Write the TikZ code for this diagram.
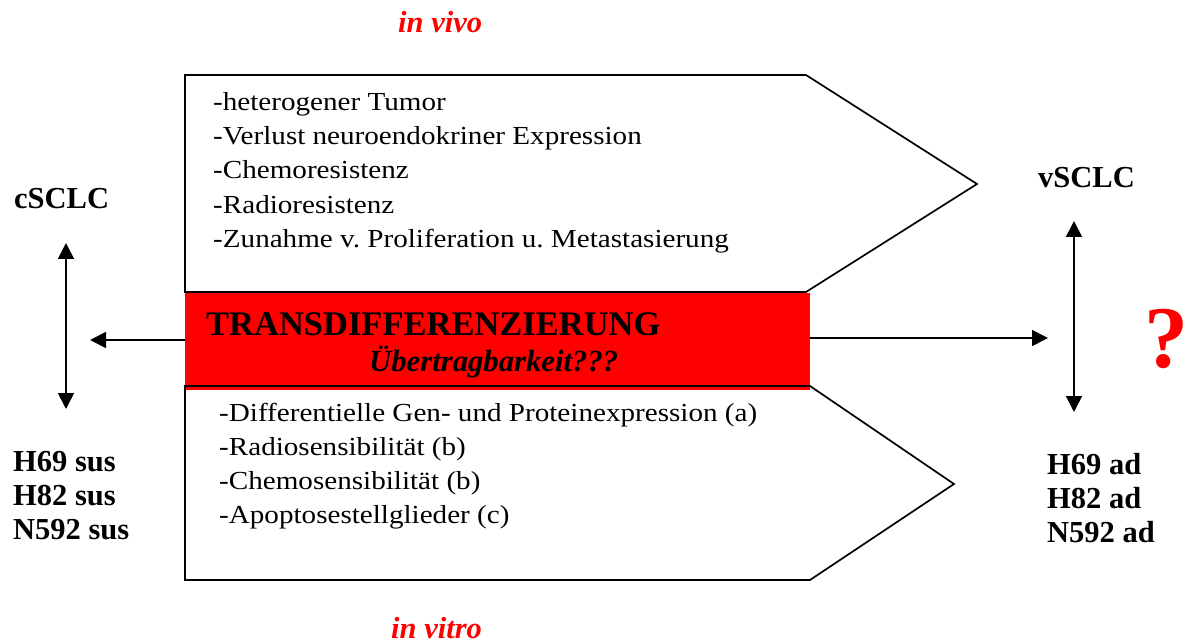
\documentclass[tikz,border=0pt]{standalone}
\usepackage{fontspec}
\setmainfont{Liberation Serif}
\newfontfamily\listfont[FakeStretch=1.12]{Liberation Serif}
\usetikzlibrary{arrows.meta}
\definecolor{pred}{RGB}{255,0,0}
\frenchspacing
\tikzset{
  outline/.style={draw=black,line width=1.7pt,line join=miter},
  listtext/.style={anchor=base west,inner sep=0pt,font=\listfont\fontsize{26}{30}\selectfont\frenchspacing},
  sidelabel/.style={anchor=base west,inner sep=0pt,font=\bfseries\fontsize{30.5}{34}\selectfont},
  redlabel/.style={anchor=base west,inner sep=0pt,text=pred,font=\bfseries\itshape\fontsize{30.5}{34}\selectfont},
  conn/.style={line width=1.7pt,-{Triangle[length=16pt,width=16pt]}},
  dconn/.style={line width=1.7pt,{Triangle[length=16pt,width=16pt]}-{Triangle[length=16pt,width=16pt]}},
}
\begin{document}
\begin{tikzpicture}[x=1pt,y=-1pt]
\useasboundingbox (0,0) rectangle (1186,644);
% red bar
\node (bar) [fill=pred,inner sep=0pt,minimum width=625pt,minimum height=97pt,anchor=north west] at (185,293) {};
% top pentagon
\draw[outline] (185,75) -- (806,75) -- (977,184) -- (806,292) -- (185,292) -- cycle;
% bottom pentagon
\draw[outline] (185,386) -- (810,386) -- (954,484) -- (810,580) -- (185,580) -- cycle;
% bar texts
\node (trans) [anchor=base west,inner sep=0pt,font=\bfseries\fontsize{34.5}{38}\selectfont] at (206,335) {TRANSDIFFERENZIERUNG};
\node (uebt) [anchor=base west,inner sep=0pt,font=\bfseries\itshape\fontsize{30.7}{34}\selectfont] at (369,371) {Übertragbarkeit???};
% top list
\node (t1) [listtext] at (213,111) {-heterogener Tumor};
\node (t2) [listtext] at (213,145) {-Verlust neuroendokriner Expression};
\node (t3) [listtext] at (213,179) {-Chemoresistenz};
\node (t4) [listtext] at (213,214) {-Radioresistenz};
\node (t5) [listtext] at (213,248) {-Zunahme v. Proliferation u. Metastasierung};
% bottom list
\node (b1) [listtext] at (219,421) {-Differentielle Gen- und Proteinexpression (a)};
\node (b2) [listtext] at (219,455) {-Radiosensibilität (b)};
\node (b3) [listtext] at (219,489) {-Chemosensibilität (b)};
\node (b4) [listtext] at (219,523) {-Apoptosestellglieder (c)};
% red labels
\node (vivo) [redlabel] at (398,33) {in vivo};
\node (vitro) [redlabel] at (391,638) {in vitro};
\node (qm) [anchor=base west,inner sep=0pt,text=pred,font=\bfseries\fontsize{88}{90}\selectfont] at (1144,367) {?};
% side labels
\node (csclc) [sidelabel] at (14,209) {cSCLC};
\node (vsclc) [sidelabel] at (1038,188) {vSCLC};
\node (lsus) [sidelabel,align=left,anchor=north west] at (13,451) {\fontsize{30.5}{37}\selectfont H69 sus\\H82 sus\\N592 sus};
\node (rad) [sidelabel,align=left,anchor=north west] at (1047,453) {\fontsize{30.5}{36.5}\selectfont H69 ad\\H82 ad\\N592 ad};
% arrows
\coordinate (lend) at (90,340);
\coordinate (rend) at (1048,338);
\coordinate (lvt) at (66,243);
\coordinate (lvb) at (66,409);
\coordinate (rvt) at (1074,221);
\coordinate (rvb) at (1074,412);
\draw[conn] (bar.west |- lend) -- (lend);
\draw[conn] (bar.east |- rend) -- (rend);
\draw[dconn] (lvt) -- (lvb);
\draw[dconn] (rvt) -- (rvb);
\end{tikzpicture}
\end{document}
